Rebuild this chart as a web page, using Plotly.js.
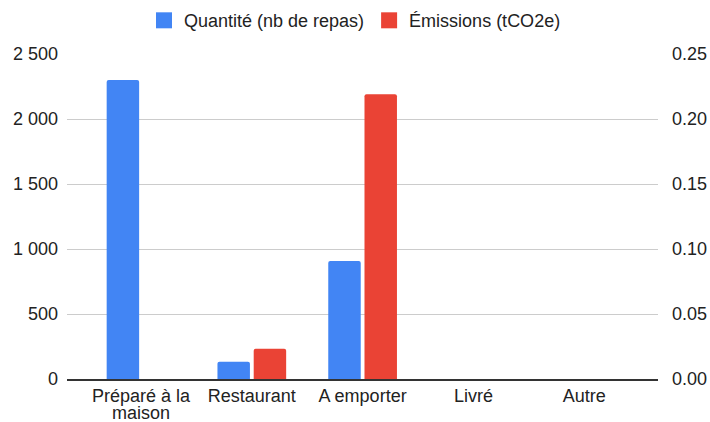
<!DOCTYPE html>
<html>
<head>
<meta charset="utf-8">
<script src="https://cdn.plot.ly/plotly-3.0.1.min.js"></script>
<style>html,body{margin:0;padding:0;background:#fff;}#chart{width:710px;height:422px;}</style>
</head>
<body>
<div id="chart"></div>
<script>
const categories = ["Préparé à la maison", "Restaurant", "A emporter", "Livré", "Autre"];
const categoryLines = [["Préparé à la", "maison"], ["Restaurant"], ["A emporter"], ["Livré"], ["Autre"]];
const quantite = [2300, 132, 907, 0, 0];
const emissions = [0, 0.0233, 0.219, 0, 0];
const seriesNames = ["Quantité (nb de repas)", "Émissions (tCO2e)"];
const leftTickVals = [0, 500, 1000, 1500, 2000, 2500];
const rightTickVals = [0, 0.05, 0.10, 0.15, 0.20, 0.25];

const BLUE = "#4285F4", RED = "#EA4335";
const font = {family: "Liberation Sans, Arial, Helvetica, sans-serif", size: 18, color: "#222"};

const traces = [
  {type: "bar", x: categories, y: quantite, yaxis: "y", name: seriesNames[0],
   marker: {color: BLUE, cornerradius: 2}, width: 0.293, offset: -0.31, offsetgroup: "a",
   showlegend: false, hoverinfo: "skip"},
  {type: "bar", x: categories, y: emissions, yaxis: "y2", name: seriesNames[1],
   marker: {color: RED, cornerradius: 2}, width: 0.293, offset: 0.017, offsetgroup: "b",
   showlegend: false, hoverinfo: "skip"},
  {type: "scatter", mode: "markers", x: [null], y: [null], name: seriesNames[0],
   marker: {symbol: "square", size: 16, color: BLUE, line: {width: 0}}, hoverinfo: "skip"},
  {type: "scatter", mode: "markers", x: [null], y: [null], name: seriesNames[1], yaxis: "y2",
   marker: {symbol: "square", size: 16, color: RED, line: {width: 0}}, hoverinfo: "skip"}
];

// extra lines of wrapped category labels, placed tighter than Plotly's default line spacing
const annotations = [];
categoryLines.forEach((lines, i) => {
  lines.slice(1).forEach((txt, j) => {
    annotations.push({x: categories[i], xref: "x", y: -(34 + 17 * j) / 325, yref: "paper",
      yanchor: "middle", xanchor: "center", text: txt, showarrow: false, font: font});
  });
});

const layout = {
  width: 710, height: 422,
  margin: {l: 67, r: 52, t: 54, b: 43, pad: 0},
  paper_bgcolor: "#fff", plot_bgcolor: "#fff",
  font: font,
  separators: ". ",
  showlegend: true,
  legend: {orientation: "h", x: 0.5, xanchor: "center", xref: "container",
           y: 0.995, yanchor: "top", yref: "container", font: font, itemwidth: 30,
           bgcolor: "rgba(0,0,0,0)"},
  xaxis: {type: "category", range: [-0.668, 4.666], showgrid: false, zeroline: false,
          tickvals: categories, ticktext: categoryLines.map(l => l[0]),
          showline: true, linecolor: "#333", linewidth: 1.5, ticks: "", tickfont: font,
          fixedrange: true},
  yaxis: {range: [0, 2500], tickvals: leftTickVals, separatethousands: true,
          showgrid: true, gridcolor: "#cccccc", gridwidth: 1, zeroline: false,
          showline: false, ticks: "", tickfont: font, ticklabelstandoff: 8, fixedrange: true},
  yaxis2: {range: [0, 0.25], tickvals: rightTickVals, tickformat: ".2f", overlaying: "y",
           side: "right", showgrid: false, zeroline: false, showline: false, ticks: "",
           tickfont: font, ticklabelstandoff: 13, fixedrange: true},
  annotations: annotations,
  bargap: 0.37
};

Plotly.newPlot("chart", traces, layout, {displayModeBar: false, staticPlot: true});
</script>
</body>
</html>
